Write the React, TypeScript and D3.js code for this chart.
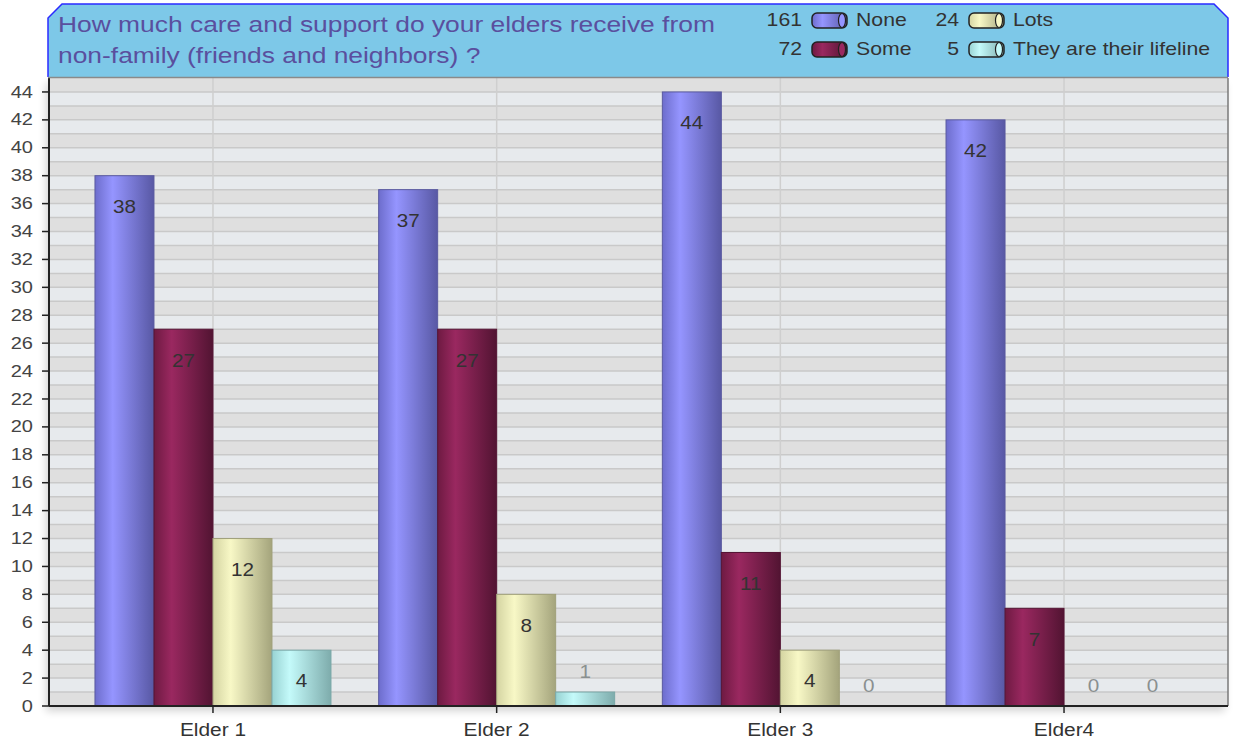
import React from "react";
import * as d3 from "d3";

const categories = ["Elder 1", "Elder 2", "Elder 3", "Elder4"];
const seriesNames = ["None", "Some", "Lots", "They are their lifeline"];
const seriesTotals = [161, 72, 24, 5];
const noneValues = [38, 37, 44, 42];
const someValues = [27, 27, 11, 7];
const lotsValues = [12, 8, 4, 0];
const lifelineValues = [4, 1, 0, 0];
const yTicks = d3.range(0, 45, 2);
const titleLines = [
  "How much care and support do your elders receive from",
  "non-family (friends and neighbors) ?",
];

const seriesValues = [noneValues, someValues, lotsValues, lifelineValues];
const palettes = [
  { l: "#6d6dcc", h: "#9595ff", r: "#5858a4", stroke: "#5a5aa0" },
  { l: "#6e1a42", h: "#9a2860", r: "#521432", stroke: "#551535" },
  { l: "#d4d4a2", h: "#f8f8c6", r: "#a4a47c", stroke: "#a0a07a" },
  { l: "#98d2d2", h: "#c4fafa", r: "#7eacac", stroke: "#7aa8a8" },
];

function T(props: { x: number; y: number; sx: number; anchor?: string; size: number; fill: string; children: any; weight?: string }) {
  const { x, y, sx, anchor = "start", size, fill, children, weight } = props;
  return (
    <text transform={`translate(${x},${y}) scale(${sx},1)`} dy="0.35em" textAnchor={anchor}
      fontSize={size} fill={fill} fontWeight={weight}>{children}</text>
  );
}

export default function App() {
  const W = 1235, H = 744;
  const left = 49, right = 1228, top = 78, bottom = 706;
  const x = d3.scaleBand<string>().domain(categories).range([left, right]).paddingInner(0).paddingOuter(0.078);
  const y = d3.scaleLinear().domain([0, 45]).range([bottom, top]);
  const barW = 59;
  const font = "Liberation Sans, Arial, sans-serif";

  const bands = d3.range(0, 45, 1);

  return (
    <svg width={W} height={H} style={{ position: "absolute", left: 0, top: 0, background: "#fff" }} fontFamily={font}>
      <defs>
        {palettes.map((p, i) => (
          <linearGradient key={i} id={`g${i}`} x1="0" x2="1" y1="0" y2="0">
            <stop offset="0" stopColor={p.l} />
            <stop offset="0.3" stopColor={p.h} />
            <stop offset="1" stopColor={p.r} />
          </linearGradient>
        ))}
        <filter id="sh" x="-5%" y="-5%" width="110%" height="115%">
          <feGaussianBlur in="SourceAlpha" stdDeviation="4" />
          <feOffset dx="-3" dy="5" />
          <feComponentTransfer><feFuncA type="linear" slope="0.18" /></feComponentTransfer>
          <feMerge><feMergeNode /><feMergeNode in="SourceGraphic" /></feMerge>
        </filter>
      </defs>

      {/* plot background */}
      <rect x={left} y={top} width={right - left} height={bottom - top} fill="#e3e6e9" filter="url(#sh)" />
      {bands.map((v) => (
        <rect key={v} x={left} y={y(v + 1)} width={right - left} height={y(v) - y(v + 1)}
          fill={v % 2 === 0 ? "#dfdfdf" : "#e7eaed"} />
      ))}
      {bands.map((v) => (
        <line key={"l" + v} x1={left} x2={right} y1={y(v)} y2={y(v)} stroke="#c9c9c9" strokeWidth={1.5} />
      ))}
      {categories.map((c) => {
        const cx = (x(c) as number) + x.bandwidth() / 2;
        return <line key={c} x1={cx} x2={cx} y1={top} y2={bottom} stroke="#cfcfcf" strokeWidth={1.5} />;
      })}
      <line x1={right} x2={right} y1={top} y2={bottom} stroke="#7a7a7a" strokeWidth={1.5} />

      {/* bars */}
      {categories.map((c, ci) => {
        const cx = (x(c) as number) + x.bandwidth() / 2;
        const start = cx - (barW * seriesValues.length) / 2;
        return seriesValues.map((vals, si) => {
          const v = vals[ci];
          const bx = start + si * barW;
          const by = y(v);
          const h = bottom - by;
          const inside = h > 40;
          return (
            <g key={c + si}>
              {v > 0 && (
                <rect x={bx} y={by} width={barW} height={h} fill={`url(#g${si})`} stroke={palettes[si].stroke} strokeWidth={1} />
              )}
              <T x={bx + barW / 2} y={inside ? by + 31 : by - 20} sx={1.15} anchor="middle"
                size={18} fill={inside ? "#333" : "#8a9090"}>{v}</T>
            </g>
          );
        });
      })}

      {/* axes */}
      <line x1={left} x2={left} y1={top} y2={bottom} stroke="#222" strokeWidth={2} />
      <line x1={left} x2={right} y1={bottom} y2={bottom} stroke="#222" strokeWidth={2} />
      {yTicks.map((t) => (
        <g key={t}>
          <line x1={left - 7} x2={left} y1={y(t)} y2={y(t)} stroke="#222" strokeWidth={1.5} />
          <T x={left - 16} y={y(t)} sx={1.25} anchor="end" size={16} fill="#444">{t}</T>
        </g>
      ))}
      {categories.map((c) => {
        const cx = (x(c) as number) + x.bandwidth() / 2;
        return (
          <g key={"t" + c}>
            <line x1={cx} x2={cx} y1={bottom} y2={bottom + 7} stroke="#222" strokeWidth={1.5} />
            <T x={cx} y={730} sx={1.16} anchor="middle" size={18} fill="#333">{c}</T>
          </g>
        );
      })}

      {/* header */}
      <path d={`M48,77 L48,18 L62,4 L1214,4 L1228,18 L1228,77 Z`} fill="#7dc8e8" />
      <path d={`M48,77 L48,18 L62,4 L1214,4 L1228,18 L1228,77`} fill="none" stroke="#2a2aff" strokeWidth={1.5} />
      <line x1={48} x2={1228} y1={77.5} y2={77.5} stroke="#8a8a8a" strokeWidth={1.5} />
      {titleLines.map((t, i) => (
        <T key={i} x={58} y={24 + i * 31} sx={1.2} size={22} fill="#5a4f9e">{t}</T>
      ))}
      {seriesNames.map((n, i) => {
        const col = Math.floor(i / 2);
        const row = i % 2;
        const sx = col === 0 ? 812 : 969;
        const cy = row === 0 ? 20 : 49;
        const p = palettes[i];
        return (
          <g key={n}>
            <T x={sx - 10} y={cy} sx={1.18} anchor="end" size={18} fill="#333">{seriesTotals[i]}</T>
            <rect x={sx} y={cy - 7} width={35} height={15} rx={5} fill={`url(#g${i})`} stroke="#222" strokeWidth={1.5} />
            <ellipse cx={sx + 30} cy={cy + 0.5} rx={3.5} ry={7} fill={p.h} stroke="#222" strokeWidth={1.2} />
            <T x={sx + 44} y={cy} sx={1.18} size={18} fill="#333">{n}</T>
          </g>
        );
      })}
    </svg>
  );
}
